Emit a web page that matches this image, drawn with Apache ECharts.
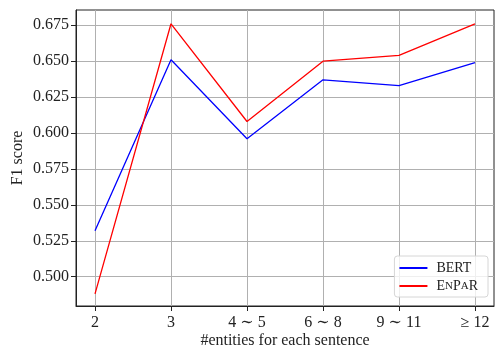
<!DOCTYPE html>
<html>
<head>
<meta charset="utf-8">
<script src="https://cdn.jsdelivr.net/npm/echarts@6/dist/echarts.min.js"></script>
<style>
  html, body { margin: 0; padding: 0; background: #fff; }
  #chart { width: 495px; height: 352px; }
</style>
</head>
<body>
<div id="chart"></div>
<script>
// 类别与数据
var categories = ["2", "3", "4 \u223C 5", "6 \u223C 8", "9 \u223C 11", "\u2265 12"];
var bertValues = [0.532, 0.651, 0.596, 0.637, 0.633, 0.649];
var enparValues = [0.488, 0.676, 0.608, 0.650, 0.654, 0.676];
var yTicks = [0.500, 0.525, 0.550, 0.575, 0.600, 0.625, 0.650, 0.675];
var xTicks = [0, 1, 2, 3, 4, 5];

var font = "'Liberation Serif', 'DejaVu Serif', serif";

function pairs(arr) {
	return arr.map(function(v, i) { return [i, v]; });
}

var myChart = echarts.init(document.getElementById('chart'));
var option = {
	animation: false,
	backgroundColor: '#fff',
	grid: {
		left: 76, top: 10, right: 1, bottom: 46,
		outerBoundsMode: 'none', containLabel: false,
		show: true, borderColor: '#222', borderWidth: 1, backgroundColor: 'transparent'
	},
	legend: {
		right: 7, bottom: 55,
		orient: 'vertical',
		icon: 'rect',
		itemWidth: 28, itemHeight: 2, itemGap: 4,
		padding: [5, 10, 4, 5],
		backgroundColor: 'rgba(255,255,255,0.8)',
		borderColor: '#d6d6d6', borderWidth: 1, borderRadius: 3,
		textStyle: {
			fontFamily: font, fontSize: 14, color: '#222', padding: [0, 0, 0, 4],
			rich: {
				b: { fontFamily: font, fontSize: 14, color: '#222' },
				s: { fontFamily: font, fontSize: 11, color: '#222' }
			}
		},
		formatter: function(name) {
			if (name === 'EnPaR') return '{b|E}{s|N}{b|P}{s|A}{b|R}';
			return name;
		},
		data: ['BERT', 'EnPaR']
	},
	xAxis: {
		type: 'value',
		min: -0.25, max: 5.25,
		name: '#entities for each sentence',
		nameLocation: 'middle', nameGap: 27, nameMoveOverlap: false,
		nameTextStyle: { fontFamily: font, fontSize: 16, color: '#222' },
		axisLine: { show: true, onZero: false, lineStyle: { color: '#222', width: 1 } },
		axisTick: { show: true, length: 5, customValues: xTicks, lineStyle: { color: '#222' } },
		axisLabel: {
			customValues: xTicks, margin: 9,
			fontFamily: font, fontSize: 16, color: '#222',
			formatter: function(v) { return categories[Math.round(v)]; }
		},
		splitLine: { show: true, lineStyle: { color: '#b0b0b0', width: 1 } }
	},
	yAxis: {
		type: 'value',
		min: 0.4796, max: 0.6856,
		name: 'F1 score',
		nameLocation: 'middle', nameGap: 50, nameMoveOverlap: false,
		nameTextStyle: { fontFamily: font, fontSize: 16, color: '#222' },
		axisLine: { show: true, onZero: false, lineStyle: { color: '#222', width: 1 } },
		axisTick: { show: true, length: 5, customValues: yTicks, lineStyle: { color: '#222' } },
		axisLabel: {
			customValues: yTicks, margin: 7,
			fontFamily: font, fontSize: 16, color: '#222',
			formatter: function(v) { return v.toFixed(3); }
		},
		splitLine: { show: true, lineStyle: { color: '#b0b0b0', width: 1 } }
	},
	series: [{
		name: 'BERT', type: 'line', symbol: 'none',
		lineStyle: { color: '#0000ff', width: 1.3 },
		itemStyle: { color: '#0000ff' },
		data: pairs(bertValues)
	}, {
		name: 'EnPaR', type: 'line', symbol: 'none',
		lineStyle: { color: '#ff0000', width: 1.3 },
		itemStyle: { color: '#ff0000' },
		data: pairs(enparValues)
	}]
};
myChart.setOption(option);
</script>
</body>
</html>
